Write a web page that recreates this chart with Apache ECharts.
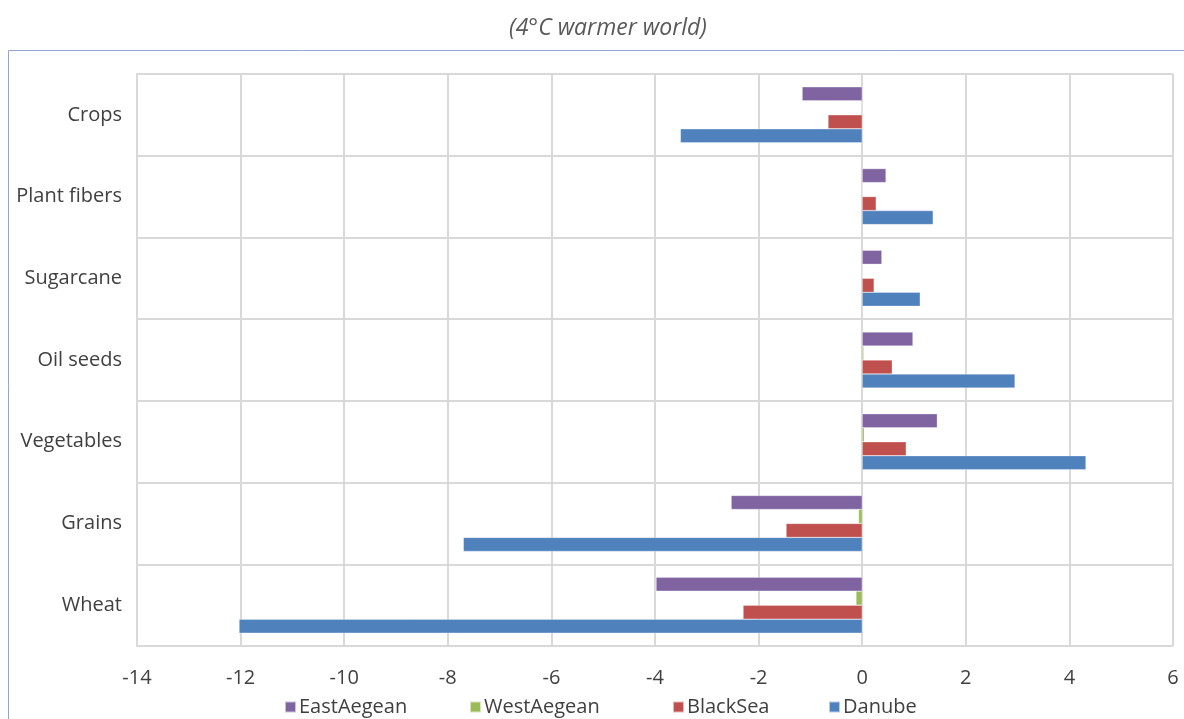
<!DOCTYPE html>
<html>
<head>
<meta charset="utf-8">
<script src="https://cdn.jsdelivr.net/npm/echarts@6/dist/echarts.min.js"></script>
<style>
  html, body { margin: 0; padding: 0; background: #ffffff; }
  #chart { width: 1184px; height: 719px; }
</style>
</head>
<body>
<div id="chart"></div>
<script>
// Crop categories, listed bottom to top along the y axis
const categories = ['Wheat', 'Grains', 'Vegetables', 'Oil seeds', 'Sugarcane', 'Plant fibers', 'Crops'];

// Change per region, in the same category order
const danube     = [-12.03, -7.70, 4.32, 2.95, 1.12, 1.37, -3.51];
const blackSea   = [-2.30, -1.47, 0.85, 0.58, 0.23, 0.27, -0.66];
const westAegean = [-0.12, -0.07, 0.04, 0.03, 0.00, 0.00, -0.01];
const eastAegean = [-3.98, -2.53, 1.45, 0.98, 0.38, 0.46, -1.16];

const legendOrder = ['EastAegean', 'WestAegean', 'BlackSea', 'Danube'];

const xMin = -14, xMax = 6, xStep = 2;

const font = '"Open Sans", "Noto Sans", sans-serif';
const textColor = '#404040';

function barSeries(name, data, color) {
  return {
    name: name,
    type: 'bar',
    data: data,
    barWidth: 14,
    barGap: '0%',
    barCategoryGap: '31%',
    itemStyle: { color: color, borderColor: 'rgba(255,255,255,0.6)', borderWidth: 0.5 },
    emphasis: { disabled: true },
    animation: false
  };
}

// One legend entry per block so each key sits at its own spot along the bottom
const legendLefts = [279, 464, 667, 823];
const legends = legendOrder.map((name, i) => ({
  data: [name],
  left: legendLefts[i],
  top: 692,
  itemWidth: 11,
  itemHeight: 11,
  icon: 'rect',
  selectedMode: false,
  textStyle: { fontFamily: font, fontSize: 20, color: textColor, padding: [0, 0, 0, -2] }
}));

const chart = echarts.init(document.getElementById('chart'), null, { renderer: 'canvas' });

chart.setOption({
  backgroundColor: '#ffffff',
  animation: false,
  title: {
    text: '(4°C warmer world)',
    left: 603,
    top: 12,
    textAlign: 'center',
    textStyle: {
      fontFamily: font,
      fontStyle: 'italic',
      fontWeight: 'normal',
      fontSize: 23,
      color: '#595959'
    }
  },
  graphic: [{
    type: 'rect',
    silent: true,
    shape: { x: 8.5, y: 50.5, width: 1250, height: 720 },
    style: { fill: 'none', stroke: '#8ea9cf', lineWidth: 1 },
    z: -1
  }],
  legend: legends,
  grid: {
    left: 137,
    right: 11,
    top: 74,
    bottom: 73,
    containLabel: false
  },
  xAxis: {
    type: 'value',
    min: xMin,
    max: xMax,
    interval: xStep,
    axisLine: { show: false },
    axisTick: { show: false },
    axisLabel: {
      fontFamily: font,
      fontSize: 20,
      color: textColor,
      margin: 22
    },
    splitLine: { show: true, lineStyle: { color: '#d9d9d9', width: 2 } }
  },
  yAxis: {
    type: 'category',
    data: categories,
    axisLine: { show: true, onZero: false, lineStyle: { color: '#d9d9d9', width: 2 } },
    axisTick: { show: false },
    axisLabel: {
      fontFamily: font,
      fontSize: 20,
      color: textColor,
      margin: 15
    },
    splitLine: { show: true, lineStyle: { color: '#d9d9d9', width: 2 } }
  },
  // Within each category the first series sits on top
  series: [
    barSeries('EastAegean', eastAegean, '#8064a2'),
    barSeries('WestAegean', westAegean, '#9bbb59'),
    barSeries('BlackSea', blackSea, '#c0504d'),
    barSeries('Danube', danube, '#4f81bd')
  ]
});
</script>
</body>
</html>
